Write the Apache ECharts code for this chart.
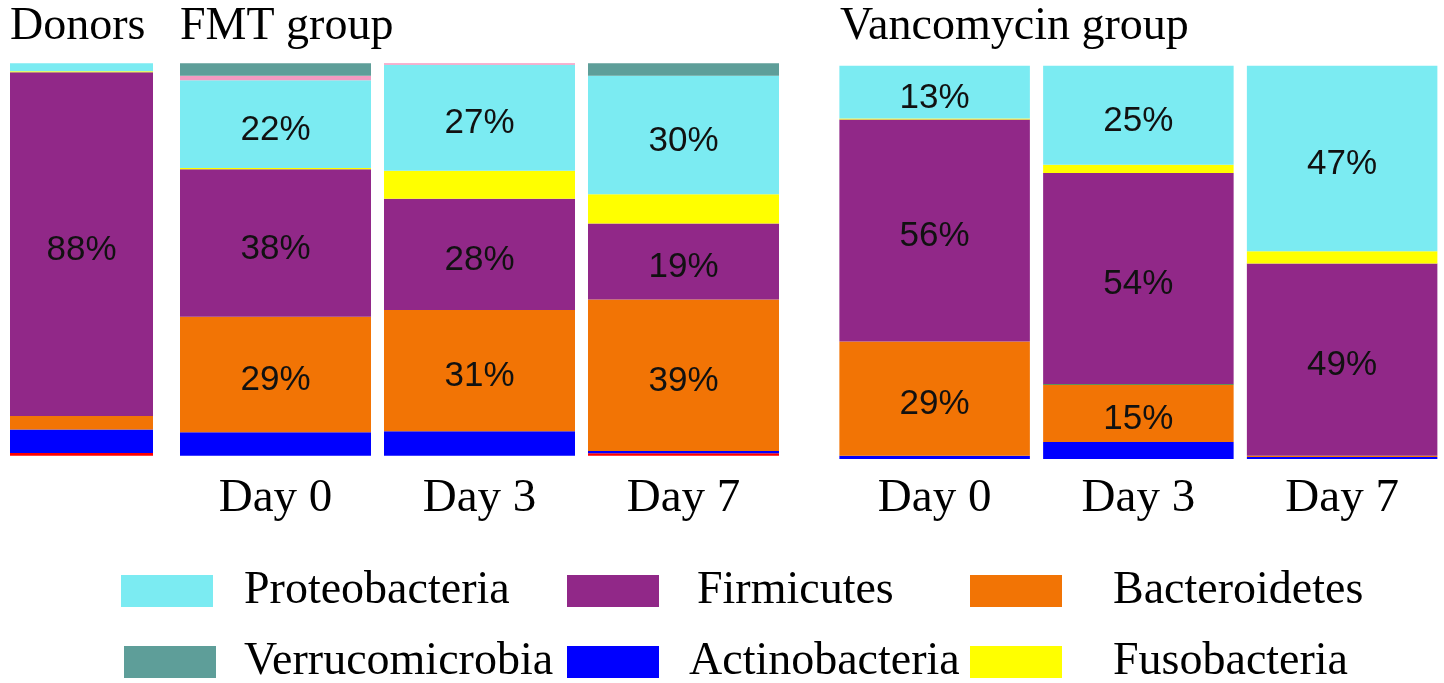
<!DOCTYPE html>
<html>
<head>
<meta charset="utf-8">
<script src="https://cdn.jsdelivr.net/npm/echarts@6/dist/echarts.min.js"></script>
<style>
  html, body { margin: 0; padding: 0; background: #fff; }
  #chart { width: 1444px; height: 683px; }
</style>
</head>
<body>
<div id="chart"></div>
<script>
// Bars: Donors | FMT group Day 0, 3, 7 | Vancomycin group Day 0, 3, 7
const barNames = ['Donors', 'Day 0', 'Day 3', 'Day 7', 'Day 0', 'Day 3', 'Day 7'];
const groupTitles = ['Donors', 'FMT group', 'Vancomycin group'];

// Relative abundance (%) per phylum, one value per bar (stack order bottom -> top)
const otherRed       = [0.7, 0,    0,    0.6,  0,    0,    0];
const actinobacteria = [6.0, 6.0,  6.2,  0.6,  0.8,  4.3,  0.5];
const bacteroidetes  = [3.4, 29.4, 30.9, 38.6, 29.1, 14.6, 0.3];
const otherGreen     = [0,   0,    0,    0,    0,    0.2,  0];
const firmicutes     = [87.6,37.6, 28.4, 19.4, 56.4, 53.6, 48.9];
const fusobacteria   = [0.3, 0.3,  7.1,  7.4,  0.3,  2.1,  3.1];
const proteobacteria = [2.0, 22.4, 27.0, 30.2, 13.4, 25.2, 47.2];
const otherPink      = [0,   1.1,  0.4,  0,    0,    0,    0];
const verrucomicrobia= [0,   3.2,  0,    3.2,  0,    0,    0];

const layers = [
  { name: 'Other (red)',     data: otherRed,        color: '#FF0000' },
  { name: 'Actinobacteria',  data: actinobacteria,  color: '#0000FF' },
  { name: 'Bacteroidetes',   data: bacteroidetes,   color: '#F27405' },
  { name: 'Other (green)',   data: otherGreen,      color: '#2E7D32' },
  { name: 'Firmicutes',      data: firmicutes,      color: '#912888' },
  { name: 'Fusobacteria',    data: fusobacteria,    color: '#FFFF00' },
  { name: 'Proteobacteria',  data: proteobacteria,  color: '#7BEBF2' },
  { name: 'Other (pink)',    data: otherPink,       color: '#F49AC1' },
  { name: 'Verrucomicrobia', data: verrucomicrobia, color: '#5E9E99' }
];

const groups = [
  { from: 0, to: 1, left: 10,    width: 143,   top: 63.3, height: 392.4, barWidth: 143,   showLabels: false, margin: 19.5 },
  { from: 1, to: 4, left: 173.5, width: 612,   top: 63.3, height: 392.4, barWidth: 191,   showLabels: true,  margin: 19.5 },
  { from: 4, to: 7, left: 832.75,width: 616.5, top: 65.7, height: 393.3, barWidth: 190.5, showLabels: true,  margin: 16.5 }
];

const serif = "'Liberation Serif', 'Times New Roman', serif";
const sans = "'Liberation Sans', Arial, sans-serif";

const grids = [], xAxes = [], yAxes = [], series = [];
groups.forEach((g, gi) => {
  grids.push({ left: g.left, top: g.top, width: g.width, height: g.height, containLabel: false });
  xAxes.push({
    type: 'category', gridIndex: gi, data: barNames.slice(g.from, g.to),
    axisLine: { show: false }, axisTick: { show: false }, splitLine: { show: false },
    axisLabel: { show: g.showLabels, margin: g.margin, color: '#000', fontFamily: serif, fontSize: 47, lineHeight: 47 }
  });
  yAxes.push({ type: 'value', gridIndex: gi, min: 0, max: 100, show: false, splitLine: { show: false } });
  layers.forEach(l => {
    series.push({
      type: 'bar', name: l.name, stack: 'g' + gi, xAxisIndex: gi, yAxisIndex: gi,
      barWidth: g.barWidth, data: l.data.slice(g.from, g.to),
      itemStyle: { color: l.color },
      emphasis: { disabled: true },
      label: {
        show: true, position: 'inside', offset: [0, 6], color: '#111', fontFamily: sans, fontSize: 35,
        formatter: p => p.value >= 10 ? Math.round(p.value) + '%' : ''
      }
    });
  });
});

const titleLefts = [10, 180, 840];
const titles = groupTitles.map((t, i) => ({
  text: t, left: titleLefts[i], top: 4, padding: 0,
  textStyle: { fontFamily: serif, fontSize: 46, fontWeight: 'normal', color: '#000', lineHeight: 46 }
}));

const legendItems = [
  { name: 'Proteobacteria',  left: 121, top: 568, pad: 26 },
  { name: 'Firmicutes',      left: 567, top: 568, pad: 33 },
  { name: 'Bacteroidetes',   left: 970, top: 568, pad: 46 },
  { name: 'Verrucomicrobia', left: 124, top: 639, pad: 23 },
  { name: 'Actinobacteria',  left: 567, top: 639, pad: 25 },
  { name: 'Fusobacteria',    left: 970, top: 639, pad: 46 }
];
const legends = legendItems.map(it => ({
  data: [it.name], left: it.left, top: it.top, padding: 0, selectedMode: false,
  icon: 'rect', itemWidth: 92, itemHeight: 32,
  textStyle: { fontFamily: serif, fontSize: 46, color: '#000', lineHeight: 32, padding: [0, 0, 0, it.pad] }
}));

const chart = echarts.init(document.getElementById('chart'), null, { renderer: 'canvas' });
chart.setOption({
  animation: false,
  backgroundColor: '#fff',
  title: titles,
  legend: legends,
  grid: grids,
  xAxis: xAxes,
  yAxis: yAxes,
  series: series
});
</script>
</body>
</html>
